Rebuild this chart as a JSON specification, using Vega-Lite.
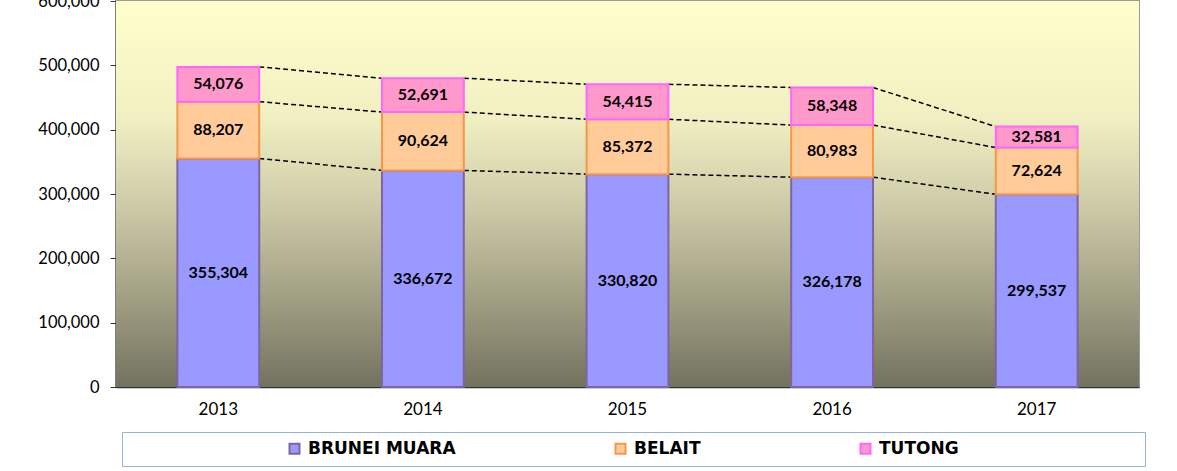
{
  "$schema": "https://vega.github.io/schema/vega-lite/v6.json",
  "width": 1023,
  "height": 386,
  "autosize": {"type": "none"},
  "padding": {"left": 116, "top": 1, "right": 38, "bottom": 84},
  "background": "white",
  "config": {
    "view": {"stroke": "#9a9a9a", "strokeWidth": 2},
    "axis": {"labelFont": "Lato", "labelColor": "black", "domainColor": "#333", "domainWidth": 1.5, "tickColor": "#333", "grid": false, "title": null}
  },
  "data": {
    "values": [
      {"year": "2013", "district": "BRUNEI MUARA", "value": 355304},
      {"year": "2013", "district": "BELAIT", "value": 88207},
      {"year": "2013", "district": "TUTONG", "value": 54076},
      {"year": "2014", "district": "BRUNEI MUARA", "value": 336672},
      {"year": "2014", "district": "BELAIT", "value": 90624},
      {"year": "2014", "district": "TUTONG", "value": 52691},
      {"year": "2015", "district": "BRUNEI MUARA", "value": 330820},
      {"year": "2015", "district": "BELAIT", "value": 85372},
      {"year": "2015", "district": "TUTONG", "value": 54415},
      {"year": "2016", "district": "BRUNEI MUARA", "value": 326178},
      {"year": "2016", "district": "BELAIT", "value": 80983},
      {"year": "2016", "district": "TUTONG", "value": 58348},
      {"year": "2017", "district": "BRUNEI MUARA", "value": 299537},
      {"year": "2017", "district": "BELAIT", "value": 72624},
      {"year": "2017", "district": "TUTONG", "value": 32581}
    ]
  },
  "transform": [
    {"calculate": "indexof(['BRUNEI MUARA','BELAIT','TUTONG'], datum.district)", "as": "rank"},
    {"stack": "value", "groupby": ["year"], "sort": [{"field": "rank", "order": "ascending"}], "as": ["v0", "v1"]}
  ],
  "encoding": {
    "x": {
      "field": "year", "type": "ordinal",
      "scale": {"paddingInner": 0.6, "paddingOuter": 0.3},
      "axis": {"labelAngle": 0, "labelFontSize": 17, "ticks": false, "labelPadding": 14}
    }
  },
  "layer": [
    {
      "mark": {
        "type": "rect",
        "fill": {
          "gradient": "linear", "x1": 0, "y1": 0, "x2": 0, "y2": 1,
          "stops": [
            {"offset": 0, "color": "#FFFFCC"},
            {"offset": 0.3, "color": "#F1F0C2"},
            {"offset": 0.5, "color": "#D2D0AC"},
            {"offset": 0.75, "color": "#A5A386"},
            {"offset": 1, "color": "#73725F"}
          ]
        }
      },
      "encoding": {"x": null}
    },
    {
      "transform": [
        {"window": [{"op": "lead", "field": "v1", "as": "nv1"}, {"op": "lead", "field": "year", "as": "nyear"}], "groupby": ["district"], "sort": [{"field": "year", "order": "ascending"}]},
        {"filter": "datum.nyear != null"}
      ],
      "mark": {"type": "rule", "color": "black", "strokeWidth": 1.5, "strokeDash": [5, 3]},
      "encoding": {
        "x": {"field": "year", "type": "ordinal", "bandPosition": 1},
        "x2": {"field": "nyear", "bandPosition": 0},
        "y": {"field": "v1", "type": "quantitative", "scale": {"domain": [0, 600000], "nice": false}},
        "y2": {"field": "nv1"}
      }
    },
    {
      "mark": {"type": "bar", "strokeWidth": 2},
      "encoding": {
        "y": {
          "field": "v0", "type": "quantitative",
          "scale": {"domain": [0, 600000], "nice": false},
          "axis": {"values": [0, 100000, 200000, 300000, 400000, 500000, 600000], "format": ",d", "labelFontSize": 16.5, "tickSize": 6, "labelPadding": 11}
        },
        "y2": {"field": "v1"},
        "fill": {
          "field": "district", "type": "nominal",
          "scale": {"domain": ["BRUNEI MUARA", "BELAIT", "TUTONG"], "range": ["#9999FF", "#FFCC99", "#FF99CC"]},
          "legend": {
            "orient": "none", "legendX": 6, "legendY": 431, "direction": "horizontal",
            "title": " ", "titleOrient": "right", "titlePadding": 178,
            "padding": 8, "strokeColor": "#95B3D7", "fillColor": "white",
            "symbolType": "square", "symbolSize": 100, "symbolStrokeWidth": 2, "symbolOffset": 156,
            "columnPadding": -2, "labelOffset": 5,
            "labelFont": "DejaVu Sans", "labelFontWeight": "bold", "labelFontSize": 17, "labelColor": "black", "labelLimit": 300
          }
        },
        "stroke": {
          "field": "district", "type": "nominal",
          "scale": {"domain": ["BRUNEI MUARA", "BELAIT", "TUTONG"], "range": ["#8064A2", "#F79646", "#FF66FF"]}
        }
      }
    },
    {
      "transform": [{"calculate": "(datum.v0 + datum.v1) / 2", "as": "mid"}],
      "mark": {"type": "text", "font": "Lato", "fontWeight": "bold", "fontSize": 16, "color": "black", "baseline": "middle"},
      "encoding": {
        "y": {"field": "mid", "type": "quantitative", "scale": {"domain": [0, 600000], "nice": false}},
        "text": {"field": "value", "type": "quantitative", "format": ",d"}
      }
    }
  ]
}
